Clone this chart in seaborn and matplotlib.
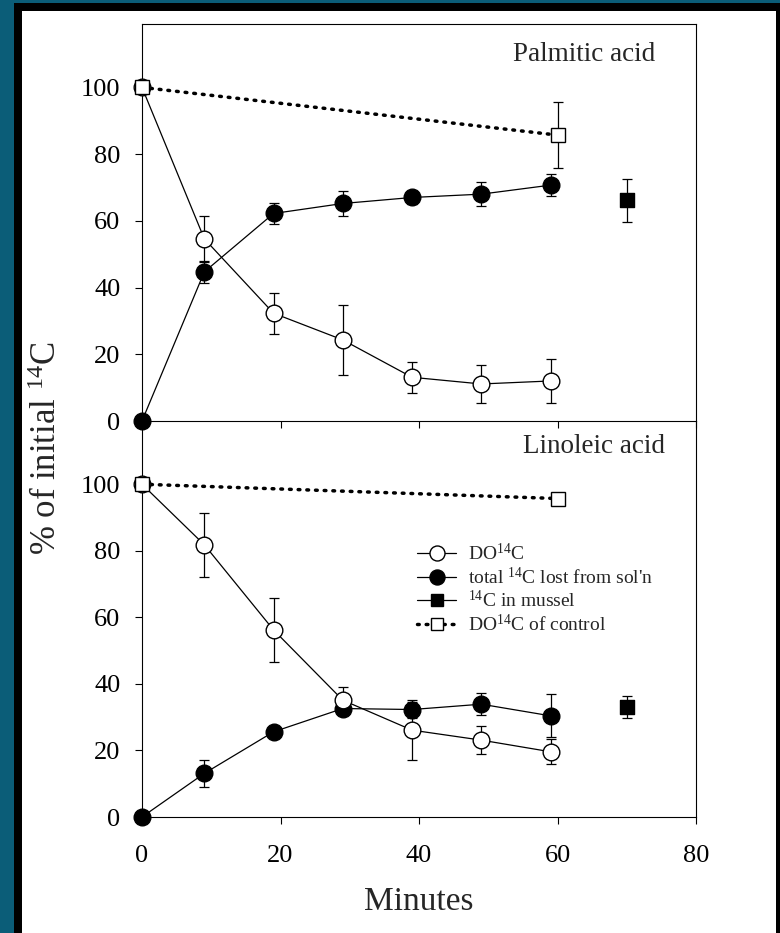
import matplotlib
matplotlib.use("Agg")
import matplotlib.pyplot as plt
from matplotlib.patches import Rectangle
from matplotlib.lines import Line2D
import seaborn as sns

# ---- data (% of initial 14C) ----
minutes = [0, 9, 19, 29, 39, 49, 59]
control_minutes = [0, 60]
mussel_minutes = [70]

# Palmitic acid
do_palm = [100, 54.6, 32.3, 24.3, 13.1, 11.1, 12.0]
do_palm_err = [0, 6.9, 6.2, 10.4, 4.7, 5.7, 6.6]
lost_palm = [0, 44.7, 62.2, 65.2, 67.0, 68.0, 70.7]
lost_palm_err = [0, 3.3, 3.0, 3.7, 2.0, 3.5, 3.4]
control_palm = [100, 85.7]
control_palm_err = [0, 10.0]
mussel_palm = [66.1]
mussel_palm_err = [6.5]

# Linoleic acid
do_lin = [100, 81.8, 56.2, 35.1, 26.1, 23.1, 19.6]
do_lin_err = [0, 9.6, 9.6, 4.0, 9.0, 4.2, 3.8]
lost_lin = [0, 13.1, 25.6, 32.6, 32.3, 33.9, 30.4]
lost_lin_err = [0, 4.0, 1.0, 1.5, 2.4, 3.3, 6.5]
control_lin = [100, 95.7]
control_lin_err = [0, 0]
mussel_lin = [33.1]
mussel_lin_err = [3.2]

panel_titles = ["Palmitic acid", "Linoleic acid"]
x_ticks = [0, 20, 40, 60, 80]
y_ticks = [0, 20, 40, 60, 80, 100]
legend_labels = ["DO$^{14}$C", "total $^{14}$C lost from sol'n",
                 "$^{14}$C in mussel", "DO$^{14}$C of control"]

sns.set_theme(style="ticks")
plt.rcParams["font.family"] = ["Liberation Serif", "DejaVu Serif"]
plt.rcParams["mathtext.fontset"] = "custom"
plt.rcParams["mathtext.rm"] = "Liberation Serif"
plt.rcParams["mathtext.it"] = "Liberation Serif:italic"
plt.rcParams["mathtext.bf"] = "Liberation Serif:bold"

W, H = 780, 933
fig = plt.figure(figsize=(W / 100, H / 100), dpi=100, facecolor="#0b5d78")
fig.patches.append(Rectangle((14 / W, 0), (W - 14) / W, (H - 3) / H,
                             transform=fig.transFigure, facecolor="black",
                             edgecolor="none", zorder=-2))
fig.patches.append(Rectangle((22 / W, 0), (776 - 22) / W, (H - 11) / H,
                             transform=fig.transFigure, facecolor="white",
                             edgecolor="none", zorder=-1))

ax1 = fig.add_axes([142 / W, (H - 421) / H, 554 / W, 397 / H])
ax2 = fig.add_axes([142 / W, (H - 817) / H, 554 / W, 396 / H])

LW = 0.9
MS_C = 12
MS_S = 10
DOTS = (0, (0.5, 2.0))
DOT_LW = 2.5


def draw_panel(ax, do, do_err, lost, lost_err, ctrl, ctrl_err, mus, mus_err):
    eb = dict(fmt="none", ecolor="black", elinewidth=LW, capsize=3.5,
              capthick=LW, zorder=2)
    for xs, ys, es in [(minutes, do, do_err), (minutes, lost, lost_err),
                       (control_minutes, ctrl, ctrl_err),
                       (mussel_minutes, mus, mus_err)]:
        keep = [i for i, e in enumerate(es) if e > 0]
        if keep:
            ax.errorbar([xs[i] for i in keep], [ys[i] for i in keep],
                        yerr=[es[i] for i in keep], **eb)

    sns.lineplot(x=control_minutes, y=ctrl, ax=ax, color="black",
                 linewidth=DOT_LW, linestyle=DOTS, dash_capstyle="round",
                 marker=None, zorder=3)
    sns.lineplot(x=minutes, y=lost, ax=ax, color="black", linewidth=LW,
                 marker="o", markersize=MS_C, markerfacecolor="black",
                 markeredgecolor="black", markeredgewidth=1.0, zorder=4)
    sns.lineplot(x=minutes, y=do, ax=ax, color="black", linewidth=LW,
                 marker="o", markersize=MS_C, markerfacecolor="white",
                 markeredgecolor="black", markeredgewidth=1.0, zorder=5)
    # control end points drawn as open squares on top of the dotted line
    ax.plot(control_minutes, ctrl, linestyle="none", marker="s",
            markersize=MS_S, markerfacecolor="white", markeredgecolor="black",
            markeredgewidth=1.0, zorder=6)
    sns.scatterplot(x=mussel_minutes, y=mus, ax=ax, marker="s",
                    s=MS_S ** 2, color="black", edgecolor="black",
                    linewidth=1.0, zorder=6)

    ax.set_xlim(0, 80)
    ax.set_ylim(0, 119)
    ax.set_xticks(x_ticks)
    ax.set_yticks(y_ticks)
    for sp in ax.spines.values():
        sp.set_visible(True)
        sp.set_linewidth(0.8)
        sp.set_color("black")
    ax.tick_params(direction="out", length=5, width=0.8, colors="black",
                   labelsize=19)
    ax.tick_params(axis="y", pad=10.5)
    ax.tick_params(axis="x", pad=15)
    ax.set_xlabel("")
    ax.set_ylabel("")
    ax.set_facecolor("none")
    for art in ax.lines + ax.collections:
        art.set_clip_on(False)


draw_panel(ax1, do_palm, do_palm_err, lost_palm, lost_palm_err,
           control_palm, control_palm_err, mussel_palm, mussel_palm_err)
draw_panel(ax2, do_lin, do_lin_err, lost_lin, lost_lin_err,
           control_lin, control_lin_err, mussel_lin, mussel_lin_err)

ax1.tick_params(axis="x", labelbottom=False)
ax1.set_zorder(3)
ax2.spines["top"].set_visible(False)

ax1.text(0.926, 0.922, panel_titles[0], transform=ax1.transAxes,
         ha="right", va="center", fontsize=19.5)
ax2.text(0.944, 0.935, panel_titles[1], transform=ax2.transAxes,
         ha="right", va="center", fontsize=19.5)

handles = [
    Line2D([], [], color="black", lw=LW, marker="o", markersize=MS_C * 0.9,
           markerfacecolor="white", markeredgecolor="black"),
    Line2D([], [], color="black", lw=LW, marker="o", markersize=MS_C * 0.9,
           markerfacecolor="black", markeredgecolor="black"),
    Line2D([], [], color="black", lw=LW, marker="s", markersize=MS_S * 0.9,
           markerfacecolor="black", markeredgecolor="black"),
    Line2D([], [], color="black", lw=DOT_LW, linestyle=DOTS,
           dash_capstyle="round", marker="s", markersize=MS_S * 0.9,
           markerfacecolor="white", markeredgecolor="black"),
]
ax2.legend(handles, legend_labels, loc="upper left",
           bbox_to_anchor=(0.497, 0.692), frameon=False, fontsize=14,
           handlelength=2.0, handletextpad=0.6, labelspacing=0.12,
           borderpad=0, borderaxespad=0)

fig.text(48 / W, 1 - 448 / H, "% of initial $^{14}$C", rotation=90,
         ha="center", va="center", fontsize=25)
fig.text(419 / W, 1 - 902 / H, "Minutes", ha="center", va="center",
         fontsize=24)

fig.savefig("out.png", dpi=100, facecolor=fig.get_facecolor())
